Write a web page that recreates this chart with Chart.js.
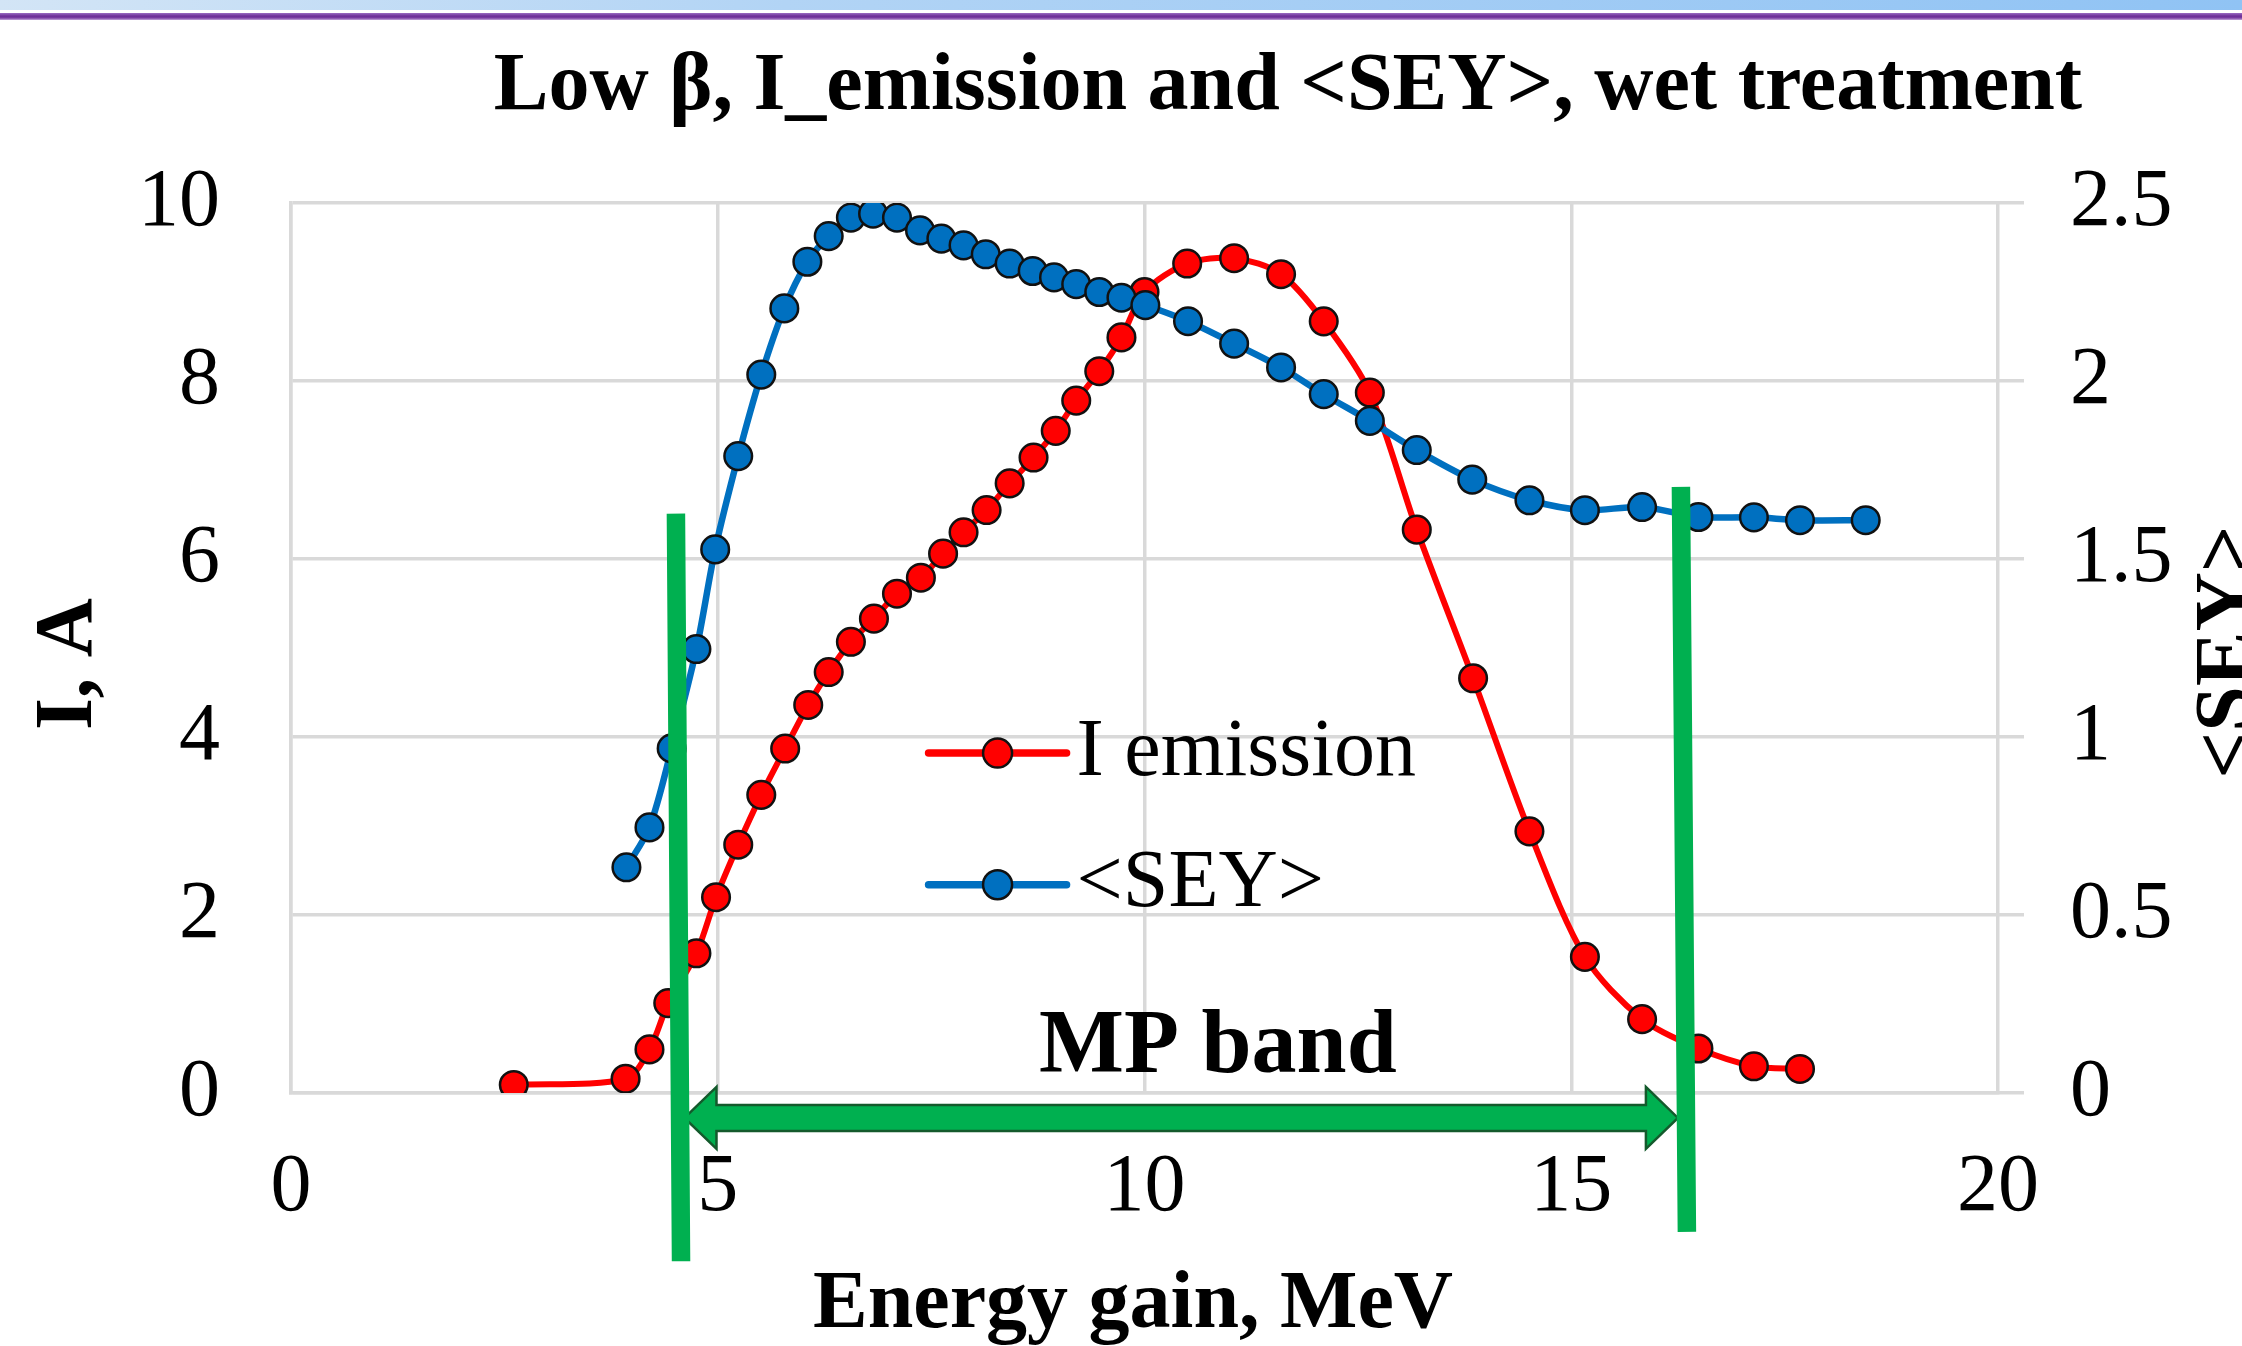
<!DOCTYPE html>
<html><head><meta charset="utf-8">
<script src="https://cdn.jsdelivr.net/npm/chart.js@4.4.1/dist/chart.umd.min.js"></script>
<style>
html,body{margin:0;padding:0;background:#fff;}
#wrap{position:relative;width:2242px;height:1346px;overflow:hidden;background:#fff;}
#chart{position:absolute;left:0;top:0;}
.bandBlue{position:absolute;left:0;top:0;width:2242px;height:10px;background:linear-gradient(to right,#d3e5f6,#b2d4f5 35%,#90c3f4);}
.bandPurple{position:absolute;left:0;top:13px;width:2242px;height:7px;background:linear-gradient(to bottom,#9a6cc2,#6b2d96 45%,#7a3fa3 70%,#c3a6da);}
</style></head>
<body><div id="wrap"><canvas id="chart" width="2242" height="1346"></canvas><div class="bandBlue"></div><div class="bandPurple"></div></div>
<script>
// ---- texts ----
const chartTitle = 'Low β, I_emission and <SEY>, wet treatment';
const xAxisTitle = 'Energy gain, MeV';
const yAxisTitle = 'I, A';
const y2AxisTitle = '<SEY>';
const seriesNames = ['I emission', '<SEY>'];
const bandLabel = 'MP band';

// ---- axes ----
const xRange = [0, 20], xStep = 5;
const yRange = [0, 10], yStep = 2;
const y2Range = [0, 2.5], y2Step = 0.5;

// ---- series: I emission (A) vs energy gain (MeV) ----
const iX = [2.61, 3.92, 4.20, 4.42, 4.75, 4.98, 5.24, 5.51, 5.79, 6.06, 6.30, 6.56, 6.83, 7.10, 7.38, 7.64, 7.88, 8.15, 8.42, 8.70, 8.96, 9.20, 9.47, 9.73, 10.00, 10.50, 11.05, 11.60, 12.10, 12.64, 13.19, 13.85, 14.51, 15.16, 15.83, 16.49, 17.14, 17.68];
const iVals = [0.09, 0.16, 0.49, 1.01, 1.57, 2.20, 2.79, 3.35, 3.87, 4.36, 4.73, 5.07, 5.33, 5.61, 5.79, 6.06, 6.30, 6.55, 6.85, 7.14, 7.44, 7.78, 8.11, 8.49, 9.00, 9.32, 9.38, 9.20, 8.67, 7.87, 6.33, 4.66, 2.94, 1.53, 0.83, 0.50, 0.30, 0.27];

// ---- series: <SEY> vs energy gain (MeV) ----
const seyX = [3.93, 4.20, 4.46, 4.75, 4.97, 5.24, 5.51, 5.78, 6.05, 6.30, 6.56, 6.82, 7.10, 7.37, 7.62, 7.88, 8.14, 8.42, 8.69, 8.94, 9.20, 9.47, 9.73, 10.01, 10.51, 11.05, 11.60, 12.10, 12.64, 13.19, 13.84, 14.51, 15.16, 15.83, 16.49, 17.14, 17.68, 18.45];
const seyVals = [0.634, 0.746, 0.968, 1.247, 1.527, 1.789, 2.018, 2.204, 2.335, 2.407, 2.459, 2.470, 2.459, 2.423, 2.400, 2.381, 2.356, 2.330, 2.309, 2.291, 2.272, 2.250, 2.234, 2.213, 2.168, 2.105, 2.038, 1.963, 1.888, 1.806, 1.723, 1.665, 1.637, 1.646, 1.618, 1.617, 1.609, 1.609];

// ---- MP band annotation (MeV) ----
const mpBandStart = 4.54;
const mpBandEnd = 16.32;

const FONT = '"Liberation Serif", "Times New Roman", Times, serif';
const RED = '#FF0000', BLUE = '#0070C0', GREEN = '#00B050', GRID = '#D9D9D9';

const overlay = {
  id: 'overlay',
  afterDraw(chart) {
    const {ctx, scales: {x, y}} = chart;
    const px = v => x.getPixelForValue(v);
    const py = v => y.getPixelForValue(v);
    ctx.save();
    // title
    ctx.fillStyle = '#000';
    ctx.font = 'bold 82px ' + FONT;
    ctx.textAlign = 'center';
    ctx.textBaseline = 'alphabetic';
    ctx.fillText(chartTitle, 1288, 109);

    // x axis title
    ctx.fillText(xAxisTitle, 1133, 1327);

    // y axis titles (both read bottom-to-top)
    ctx.save();
    ctx.translate(91, 664);
    ctx.rotate(-Math.PI / 2);
    ctx.fillText(yAxisTitle, 0, 0);
    ctx.restore();
    ctx.save();
    ctx.translate(2251, 652);
    ctx.rotate(-Math.PI / 2);
    ctx.fillText(y2AxisTitle, 0, 0);
    ctx.restore();

    // MP band label
    ctx.font = 'bold 90px ' + FONT;
    ctx.fillText(bandLabel, px(10.86), py(0.24));

    // double arrow
    const ay = py(-0.28);
    const x1 = px(mpBandStart) + 6, x2 = px(mpBandEnd) - 6;
    const sh = 13, hh = 31, hl = 32;
    ctx.beginPath();
    ctx.moveTo(x1, ay);
    ctx.lineTo(x1 + hl, ay - hh); ctx.lineTo(x1 + hl, ay - sh);
    ctx.lineTo(x2 - hl, ay - sh); ctx.lineTo(x2 - hl, ay - hh);
    ctx.lineTo(x2, ay);
    ctx.lineTo(x2 - hl, ay + hh); ctx.lineTo(x2 - hl, ay + sh);
    ctx.lineTo(x1 + hl, ay + sh); ctx.lineTo(x1 + hl, ay + hh);
    ctx.closePath();
    ctx.fillStyle = GREEN; ctx.fill();
    ctx.lineWidth = 2.5; ctx.strokeStyle = '#145a2c'; ctx.lineJoin = 'miter'; ctx.stroke();

    // band edge lines
    ctx.strokeStyle = GREEN; ctx.lineWidth = 18.5; ctx.lineCap = 'butt';
    ctx.beginPath();
    ctx.moveTo(px(mpBandStart - 0.03), py(6.51)); ctx.lineTo(px(mpBandStart + 0.03), py(-1.89));
    ctx.moveTo(px(mpBandEnd - 0.035), py(6.81)); ctx.lineTo(px(mpBandEnd + 0.035), py(-1.56));
    ctx.stroke();

    // legend
    const lx = px(7.47);
    const rows = [[seriesNames[0], RED, py(3.82)], [seriesNames[1], BLUE, py(2.34)]];
    ctx.font = '82px ' + FONT;
    ctx.textAlign = 'left'; ctx.textBaseline = 'middle';
    rows.forEach(([label, col, ly]) => {
      ctx.strokeStyle = col; ctx.lineWidth = 7.5; ctx.lineCap = 'round';
      ctx.beginPath(); ctx.moveTo(lx, ly); ctx.lineTo(lx + 138, ly); ctx.stroke();
      ctx.beginPath(); ctx.arc(lx + 69, ly, 14.5, 0, Math.PI * 2);
      ctx.fillStyle = col; ctx.fill();
      ctx.lineWidth = 2.5; ctx.strokeStyle = '#111'; ctx.stroke();
      ctx.fillStyle = '#000';
      ctx.fillText(label, lx + 148, ly);
    });
    ctx.restore();
  }
};

const pts = (xs, ys) => xs.map((v, i) => ({x: v, y: ys[i]}));
const plainNum = v => String(Math.round(v * 100) / 100);

new Chart(document.getElementById('chart'), {
  type: 'scatter',
  data: {
    datasets: [
      {
        label: seriesNames[1], data: pts(seyX, seyVals), yAxisID: 'y2', order: 0,
        showLine: true, borderColor: BLUE, backgroundColor: BLUE, borderWidth: 6.5, tension: 0.3,
        pointRadius: 13.8, pointBorderWidth: 2.5, pointBorderColor: '#111', pointBackgroundColor: BLUE, pointHoverRadius: 13.8
      },
      {
        label: seriesNames[0], data: pts(iX, iVals), yAxisID: 'y', order: 1,
        showLine: true, borderColor: RED, backgroundColor: RED, borderWidth: 6, tension: 0.3,
        pointRadius: 13.8, pointBorderWidth: 2.5, pointBorderColor: '#111', pointBackgroundColor: RED, pointHoverRadius: 13.8
      }
    ]
  },
  options: {
    responsive: false,
    devicePixelRatio: 1,
    animation: false,
    events: [],
    layout: {padding: {top: 203, left: 0, right: 0, bottom: 0}},
    plugins: {legend: {display: false}, title: {display: false}, tooltip: {enabled: false}},
    scales: {
      x: {
        type: 'linear', min: xRange[0], max: xRange[1],
        ticks: {stepSize: xStep, color: '#000', font: {family: FONT, size: 82}, padding: 46, maxRotation: 0, callback: plainNum},
        grid: {color: GRID, lineWidth: 3.5, drawTicks: false},
        border: {color: GRID, width: 3.5},
        afterFit(s) { s.height = 253; }
      },
      y: {
        type: 'linear', position: 'left', min: yRange[0], max: yRange[1],
        ticks: {stepSize: yStep, color: '#000', font: {family: FONT, size: 82}, padding: 71, callback: plainNum},
        grid: {color: GRID, lineWidth: 3.5, drawTicks: false},
        border: {color: GRID, width: 3.5},
        afterFit(s) { s.width = 291; }
      },
      y2: {
        type: 'linear', position: 'right', min: y2Range[0], max: y2Range[1],
        ticks: {stepSize: y2Step, color: '#000', font: {family: FONT, size: 82}, padding: 46, callback: plainNum},
        grid: {drawOnChartArea: false, drawTicks: true, tickLength: 26, color: GRID, lineWidth: 3.5},
        border: {display: false},
        afterFit(s) { s.width = 244; }
      }
    }
  },
  plugins: [overlay]
});
</script>
</body></html>
